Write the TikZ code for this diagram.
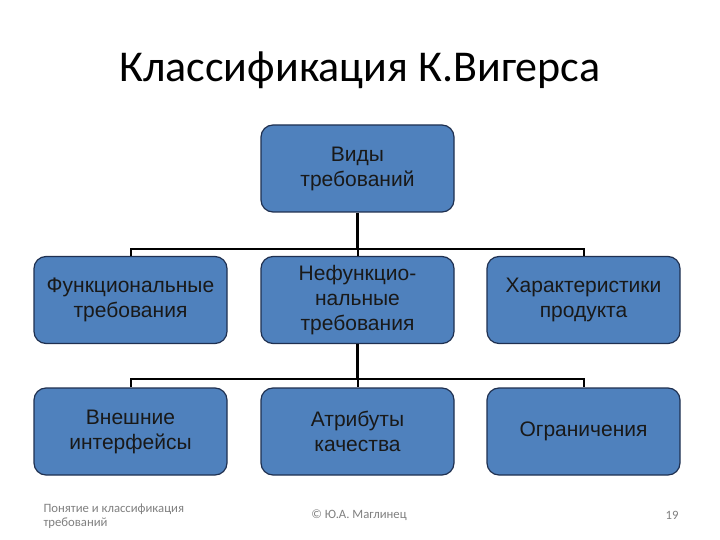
\documentclass[tikz,border=0pt]{standalone}
\usepackage{fontspec}
\setmainfont{Liberation Sans}
\newfontfamily\calib{Carlito}
\definecolor{boxblue}{HTML}{4F81BD}
\definecolor{boxedge}{HTML}{1F3050}
\definecolor{foot}{HTML}{7F7F7F}
\begin{document}
\begin{tikzpicture}[x=1pt,y=-1pt,
  rbox/.style={draw=boxedge, line width=1.2pt, fill=boxblue, rounded corners=12pt,
    minimum width=193pt, minimum height=87pt, align=center, inner sep=2pt,
    font=\fontsize{21}{25}\selectfont, text=black!90},
  thickline/.style={line width=3pt},
  busline/.style={line width=2pt}]
\useasboundingbox (0,0) rectangle (720,540);
\node[font=\calib\fontsize{44}{48}\selectfont] (title) at (360,70) {Классификация К.Вигерса};
\node[rbox] (root) at (357.5,168.5) {Виды\\требований};
\node[rbox] (a1) at (130.5,300) {Функциональные\\требования};
\node[rbox] (a2) at (357.5,300) {Нефункцио-\\нальные\\требования};
\node[rbox] (a3) at (583.5,300) {Характеристики\\продукта};
\node[rbox] (b1) at (130.5,431.5) {Внешние\\интерфейсы};
\node[rbox] (b2) at (357.5,431.5) {Атрибуты\\качества};
\node[rbox] (b3) at (583.5,431.5) {Ограничения};
\coordinate (bus1) at (357.5,249);
\coordinate (bus2) at (357.5,379);
\draw[thickline] (root.south) -- (bus1);
\draw[busline] (a1.north) -- (a1.north |- bus1) -- (a3.north |- bus1) -- (a3.north);
\draw[busline] (bus1) -- (a2.north);
\draw[thickline] (a2.south) -- (bus2);
\draw[busline] (b1.north) -- (b1.north |- bus2) -- (b3.north |- bus2) -- (b3.north);
\draw[busline] (bus2) -- (b2.north);
\node[font=\calib\fontsize{12.7}{14}\selectfont, text=foot, align=left, anchor=north west] (f1) at (40,500) {Понятие и классификация\\требований};
\node[font=\calib\fontsize{12.7}{14}\selectfont, text=foot] (f2) at (359,515) {© Ю.А. Маглинец};
\node[font=\calib\fontsize{12.7}{14}\selectfont, text=foot] (f3) at (672,515) {19};
\end{tikzpicture}
\end{document}
